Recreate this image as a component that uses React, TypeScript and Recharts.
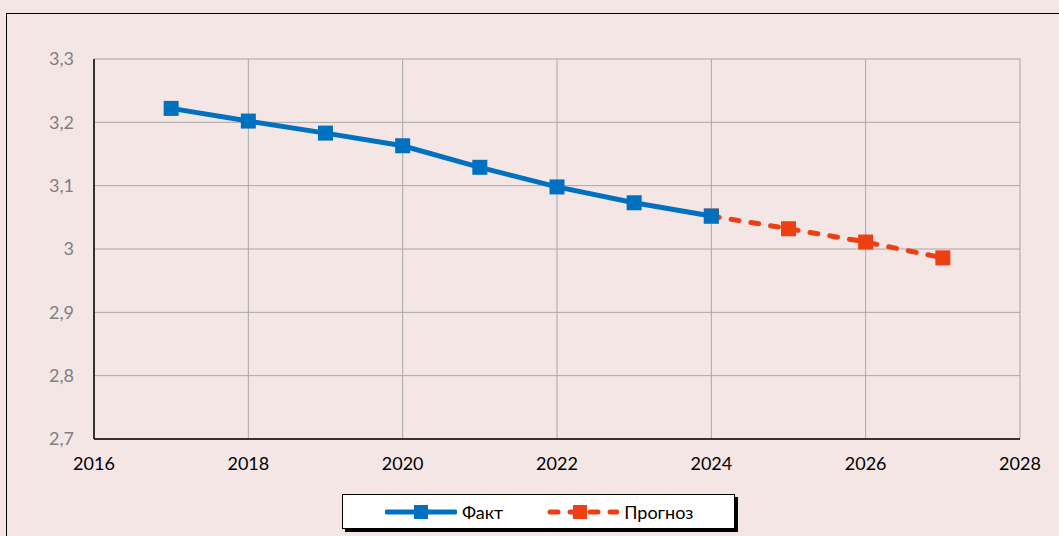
import React from "react";
import { LineChart, Line, XAxis, YAxis, CartesianGrid } from "recharts";

const years = [2017, 2018, 2019, 2020, 2021, 2022, 2023, 2024, 2025, 2026, 2027];
const factValues = [3.222, 3.202, 3.183, 3.163, 3.129, 3.098, 3.073, 3.052, null, null, null];
const forecastValues = [null, null, null, null, null, null, null, 3.052, 3.032, 3.011, 2.986];
const xTicks = [2016, 2018, 2020, 2022, 2024, 2026, 2028];
const yTicks = [2.7, 2.8, 2.9, 3.0, 3.1, 3.2, 3.3];
const seriesNames = ["Факт", "Прогноз"];

const BLUE = "#0070C0";
const RED = "#EE3E14";
const BG = "#F5E6E6";
const FONT = "Lato, 'Open Sans', sans-serif";

const data = years.map((y, i) => ({ year: y, fact: factValues[i], forecast: forecastValues[i] }));

const squareDot = (color: string) => (props: any) => {
  const { cx, cy, value, index } = props;
  if (value === null || value === undefined || cx == null || cy == null) return <g key={index} />;
  const s = 15;
  return <rect key={index} x={cx - s / 2} y={cy - s / 2} width={s} height={s} fill={color} />;
};

const LegendBox = () => (
  <div
    style={{
      position: "absolute",
      left: 342,
      top: 494,
      width: 393,
      height: 35,
      boxSizing: "border-box",
      background: "#fff",
      border: "1px solid #000",
      boxShadow: "3px 3px 0 #000",
      display: "flex",
      alignItems: "center",
      fontFamily: FONT,
      fontSize: 18,
      color: "#000",
    }}
  >
    <svg width={72} height={20} style={{ marginLeft: 42 }}>
      <line x1={2} y1={10} x2={70} y2={10} stroke={BLUE} strokeWidth={5} strokeLinecap="round" />
      <rect x={29} y={3} width={14} height={14} fill={BLUE} />
    </svg>
    <span style={{ marginLeft: 5 }}>{seriesNames[0]}</span>
    <svg width={72} height={20} style={{ marginLeft: 44 }}>
      <line x1={3} y1={10} x2={70} y2={10} stroke={RED} strokeWidth={5} strokeLinecap="round" strokeDasharray="8 12" />
      <rect x={26} y={3} width={14} height={14} fill={RED} />
    </svg>
    <span style={{ marginLeft: 5 }}>{seriesNames[1]}</span>
  </div>
);

export default function App() {
  return (
    <div style={{ position: "absolute", left: 0, top: 0, width: 1059, height: 536, background: BG, overflow: "hidden" }}>
      <div
        style={{
          position: "absolute",
          left: 6,
          top: 13,
          width: 1080,
          height: 560,
          border: "1.5px solid #000",
          boxSizing: "border-box",
        }}
      />
      <div style={{ position: "absolute", left: 0, top: 0 }}>
        <LineChart
          width={1059}
          height={536}
          data={data}
          margin={{ top: 59, right: 39, bottom: 0, left: 0 }}
          style={{ fontFamily: FONT }}
        >
          <CartesianGrid stroke="#A6A6A6" strokeWidth={1} />
          <XAxis
            dataKey="year"
            type="number"
            domain={[2016, 2028]}
            ticks={xTicks}
            interval={0}
            tickLine={false}
            tickSize={0}
            tickMargin={18}
            axisLine={{ stroke: "#000", strokeWidth: 1.5 }}
            tick={{ fill: "#000", fontSize: 18, fontFamily: FONT }}
            height={97}
          />
          <YAxis
            type="number"
            domain={[2.7, 3.3]}
            ticks={yTicks}
            interval={0}
            width={94}
            tickLine={false}
            tickSize={0}
            tickMargin={20}
            axisLine={{ stroke: "#000", strokeWidth: 1.5 }}
            tick={{ fill: "#7F7F7F", fontSize: 18, fontFamily: FONT }}
            tickFormatter={(v: number) => String(Math.round(v * 10) / 10).replace(".", ",")}
          />
          <Line
            name={seriesNames[1]}
            dataKey="forecast"
            stroke={RED}
            strokeWidth={5}
            strokeDasharray="8 12"
            strokeLinecap="round"
            dot={squareDot(RED)}
            activeDot={false}
            isAnimationActive={false}
          />
          <Line
            name={seriesNames[0]}
            dataKey="fact"
            stroke={BLUE}
            strokeWidth={5}
            dot={squareDot(BLUE)}
            activeDot={false}
            isAnimationActive={false}
          />
        </LineChart>
      </div>
      <LegendBox />
    </div>
  );
}
